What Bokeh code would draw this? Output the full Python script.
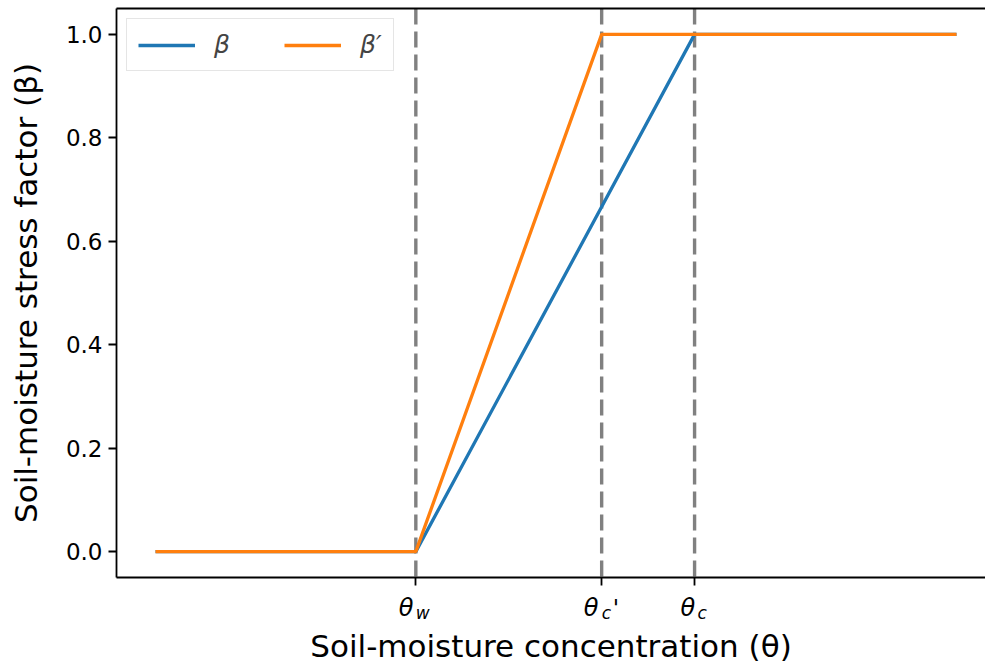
from bokeh.plotting import figure
from bokeh.layouts import column
from bokeh.models import (Range1d, Span, Label, Legend, LegendItem, LinearAxis,
                          FixedTicker, PrintfTickFormatter)
from bokeh.embed import file_html
from bokeh.resources import INLINE

# ---- data ----
theta_beta = [0.0, 0.325, 0.673, 1.0]
beta_vals = [0.0, 0.0, 1.0, 1.0]
theta_beta_prime = [0.0, 0.325, 0.557, 1.0]
beta_prime_vals = [0.0, 0.0, 1.0, 1.0]
x_ticks = [0.325, 0.557, 0.673]           # theta_w, theta_c', theta_c
x_tick_main = ["θ", "θ", "θ"]
x_tick_sub = ["w", "c", "c"]
x_tick_suffix = ["", "'", ""]
y_ticks = [0.0, 0.2, 0.4, 0.6, 0.8, 1.0]
series_labels = ["β", "β′"]
x_label = "Soil-moisture concentration (θ)"
y_label = "Soil-moisture stress factor (β)"

FONT = "DejaVu Sans"
W = 985
MAIN_H = 592
STRIP_H = 72

xr = Range1d(-0.0487, 1.0362)

p = figure(width=W, height=MAIN_H, output_backend="svg", toolbar_location=None,
           x_range=xr, y_range=Range1d(-0.05, 1.05),
           min_border_left=116, min_border_right=0, min_border_top=8, min_border_bottom=15,
           x_axis_location=None, y_axis_location=None)
p.outline_line_color = None
p.xgrid.visible = False
p.ygrid.visible = False
p.border_fill_color = "white"

# y axis
yax = LinearAxis(ticker=FixedTicker(ticks=y_ticks))
yax.formatter = PrintfTickFormatter(format="%.1f")
yax.major_label_text_font = FONT
yax.major_label_text_font_size = "23px"
yax.major_label_text_color = "black"
yax.major_tick_out = 8
yax.major_tick_in = 0
yax.major_tick_line_width = 1.8
yax.minor_tick_line_color = None
yax.axis_line_width = 1.8
yax.major_label_standoff = 6
yax.axis_label = y_label
yax.axis_label_text_font = FONT
yax.axis_label_text_font_size = "31px"
yax.axis_label_text_font_style = "normal"
yax.axis_label_text_color = "black"
yax.axis_label_standoff = 19
p.add_layout(yax, "left")

# bottom axis: ticks only
xax = LinearAxis(ticker=FixedTicker(ticks=x_ticks))
xax.major_label_overrides = {t: "" for t in x_ticks}
xax.major_label_text_font_size = "1px"
xax.major_label_standoff = 0
xax.major_tick_out = 8
xax.major_tick_in = 0
xax.major_tick_line_width = 1.8
xax.minor_tick_line_color = None
xax.axis_line_width = 1.8
p.add_layout(xax, "below")

# top spine
top = LinearAxis(ticker=FixedTicker(ticks=[]))
top.major_tick_out = 0
top.major_tick_in = 0
top.minor_tick_line_color = None
top.major_label_text_font_size = "1px"
top.major_label_standoff = 0
top.axis_line_width = 1.8
p.add_layout(top, "above")

# vertical dashed lines
for xv in x_ticks:
    p.add_layout(Span(location=xv, dimension="height", line_color="#808080",
                      line_width=3.4, line_dash="16 7", level="underlay"))

r1 = p.line(theta_beta, beta_vals, line_color="#1f77b4", line_width=3.3)
r2 = p.line(theta_beta_prime, beta_prime_vals, line_color="#ff7f0e", line_width=3.3)

legend = Legend(items=[LegendItem(label=series_labels[0], renderers=[r1]),
                       LegendItem(label=series_labels[1], renderers=[r2])],
                orientation="horizontal", location="top_left")
legend.margin = 10
legend.padding = 11
legend.glyph_width = 57
legend.glyph_height = 26
legend.label_standoff = 19
legend.spacing = 50
legend.label_text_font = FONT
legend.label_text_font_size = "25px"
legend.label_text_font_style = "italic"
legend.border_line_color = "#cccccc"
legend.border_line_width = 1.5
legend.background_fill_alpha = 0.8
p.add_layout(legend)

# ---- strip below the axes: tick labels and x-axis title ----
# y in this strip counts pixels downward from the strip's top edge
s = figure(width=W, height=STRIP_H, output_backend="svg", toolbar_location=None,
           title=None, x_range=xr, y_range=Range1d(STRIP_H, 0),
           min_border_left=116, min_border_right=0, min_border_top=0, min_border_bottom=0,
           x_axis_location=None, y_axis_location=None)
s.outline_line_color = None
s.xgrid.visible = False
s.ygrid.visible = False
s.border_fill_color = "white"
s.background_fill_color = "white"

main_off = [-17, -18, -14]
sub_off = [0, 0, 3]
for i, xv in enumerate(x_ticks):
    s.add_layout(Label(x=xv, y=15, x_offset=main_off[i],
                       text=x_tick_main[i], text_font=FONT, text_font_size="24px",
                       text_font_style="italic", text_align="left",
                       text_baseline="alphabetic", text_color="black"))
    s.add_layout(Label(x=xv, y=20, x_offset=sub_off[i],
                       text=x_tick_sub[i], text_font=FONT, text_font_size="17px",
                       text_font_style="italic", text_align="left",
                       text_baseline="alphabetic", text_color="black"))
    if x_tick_suffix[i]:
        s.add_layout(Label(x=xv, y=15, x_offset=11,
                           text=x_tick_suffix[i], text_font=FONT, text_font_size="23px",
                           text_align="left", text_baseline="alphabetic",
                           text_color="black"))

s.add_layout(Label(x=(xr.start + xr.end) / 2, y=53, text=x_label, text_font=FONT,
                   text_font_size="31px", text_align="center",
                   text_baseline="alphabetic", text_color="black"))

layout = column(p, s, spacing=0)
open("out.html", "w").write(file_html(layout, INLINE))
